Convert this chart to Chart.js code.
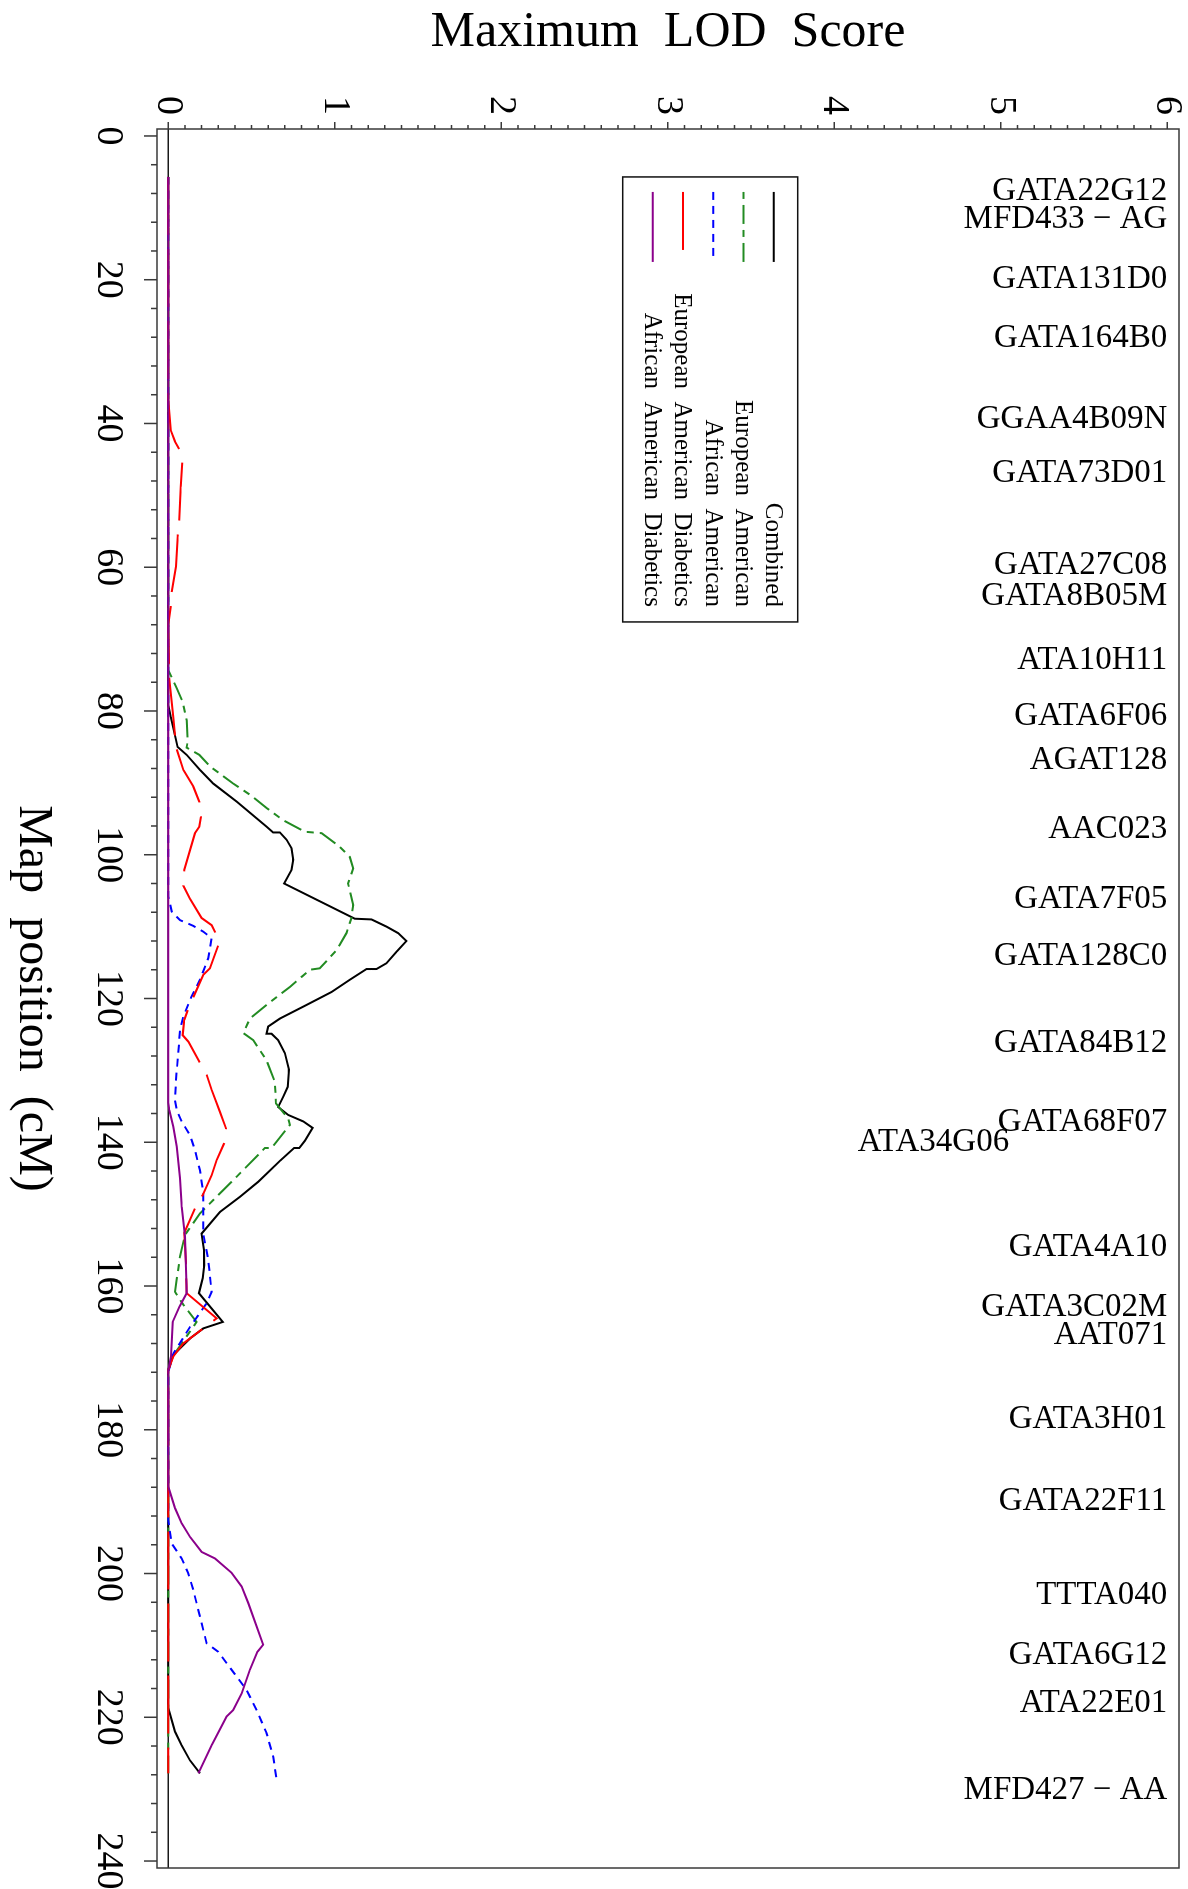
<!DOCTYPE html>
<html>
<head>
<meta charset="utf-8">
<title>Maximum LOD Score</title>
<script src="https://cdn.jsdelivr.net/npm/chart.js@4.4.0/dist/chart.umd.min.js"></script>
<style>
  html, body { margin: 0; padding: 0; background: #fff; }
  #wrap { position: relative; width: 1188px; height: 1889px; overflow: hidden; }
  /* plot is built landscape, then turned a quarter turn clockwise */
  #lodChart { position: absolute; left: 0; top: 0; transform-origin: 0 0; transform: translateX(1188px) rotate(90deg); }
</style>
</head>
<body>
<div id="wrap"><canvas id="lodChart" width="1889" height="1188"></canvas></div>
<script>
// ======================
// Data: [map position (cM), max LOD]
// ======================
const combined = [[5.7,0],[79.2,0],[80.8,0.014],[85.0,0.056],[86.1,0.11],[88.2,0.19],[90.1,0.27],[92.6,0.41],[96.1,0.59],[96.9,0.63],[96.9,0.67],[97.9,0.71],[99.1,0.74],[100.7,0.75],[102.1,0.74],[104.0,0.695],[108.9,1.12],[109.0,1.22],[110.0,1.31],[110.9,1.38],[112.0,1.43],[113.5,1.37],[115.1,1.31],[115.9,1.25],[115.9,1.19],[117.4,1.09],[119.1,0.98],[120.9,0.83],[122.8,0.67],[123.9,0.60],[124.9,0.59],[124.9,0.62],[125.8,0.66],[127.6,0.70],[129.9,0.725],[132.3,0.717],[133.7,0.69],[135.1,0.66],[136.2,0.72],[137.1,0.81],[138.0,0.867],[139.8,0.82],[140.8,0.787],[140.8,0.755],[142.6,0.67],[145.5,0.54],[147.6,0.43],[149.7,0.31],[152.7,0.20],[155.0,0.214],[157.1,0.216],[158.9,0.207],[161.0,0.184],[165.0,0.327],[165.9,0.21],[167.3,0.13],[169.6,0.03],[171.7,0],[218.7,0],[222.0,0.04],[223.9,0.08],[226.0,0.13],[227.8,0.19]];

const europeanAmerican = [[5.7,0],[74.3,0],[76.8,0.05],[78.7,0.086],[81.3,0.11],[84.3,0.116],[85.1,0.11],[86.1,0.186],[87.7,0.25],[90.1,0.39],[91.8,0.50],[93.5,0.59],[95.2,0.69],[96.8,0.82],[97.0,0.92],[98.9,1.03],[100.3,1.09],[101.9,1.11],[104.0,1.08],[107.0,1.11],[108.8,1.10],[110.9,1.07],[113.3,1.01],[115.8,0.91],[116.0,0.85],[118.4,0.73],[120.7,0.60],[122.8,0.49],[124.8,0.45],[125.8,0.51],[128.6,0.59],[131.6,0.64],[134.6,0.647],[136.7,0.72],[137.6,0.73],[140.8,0.62],[140.8,0.58],[144.8,0.41],[149.9,0.19],[152.9,0.10],[155.9,0.07],[160.8,0.04],[162.6,0.09],[165.0,0.17],[170.0,0.02],[171.7,0],[227.8,0]];

const africanAmerican = [[5.7,0],[105.8,0],[107.9,0.02],[109.1,0.07],[109.9,0.15],[110.7,0.21],[111.6,0.26],[114.4,0.24],[117.4,0.19],[119.7,0.14],[122.5,0.09],[124.4,0.07],[127.6,0.06],[131.3,0.046],[134.1,0.04],[135.5,0.05],[137.1,0.08],[139.0,0.13],[141.1,0.16],[143.9,0.19],[147.1,0.21],[152.7,0.21],[156.4,0.24],[160.8,0.26],[162.4,0.23],[165.7,0.13],[169.4,0.03],[172.0,0],[192.6,0],[195.8,0.02],[197.9,0.08],[200.0,0.12],[202.3,0.15],[206.0,0.19],[209.7,0.23],[210.9,0.30],[213.4,0.38],[216.2,0.47],[219.0,0.53],[222.2,0.59],[225.5,0.63],[228.7,0.65]];

const euroAmDiabetics = [[5.7,0],[36.7,0],[40.9,0.014],[42.5,0.04],[43.6,0.066],[45.4,0.084],[48.8,0.074],[53.4,0.066],[55.7,0.056],[59.9,0.046],[63.4,0.02],[65.5,0.014],[68.0,0],[75.5,0.006],[80.8,0.03],[85.0,0.046],[88.2,0.09],[90.5,0.15],[92.6,0.186],[94.7,0.196],[96.1,0.186],[97.0,0.16],[102.1,0.096],[104.3,0.09],[106.1,0.13],[108.8,0.20],[109.8,0.26],[110.7,0.28],[112.3,0.305],[115.8,0.25],[116.7,0.21],[119.3,0.16],[121.4,0.12],[123.0,0.096],[125.1,0.086],[126.0,0.12],[128.8,0.186],[130.6,0.23],[132.7,0.26],[135.8,0.31],[138.1,0.347],[140.1,0.336],[142.5,0.29],[144.6,0.26],[147.3,0.207],[149.2,0.16],[152.6,0.096],[156.8,0.106],[161.0,0.11],[164.5,0.29],[165.9,0.21],[168.0,0.09],[169.8,0.03],[171.7,0],[227.8,0]];

const afrAmDiabetics = [[5.7,0],[134.5,0],[135.5,0.006],[137.8,0.03],[140.6,0.05],[145.0,0.07],[149.0,0.08],[153.1,0.10],[161.0,0.11],[162.9,0.066],[165.0,0.026],[169.8,0.016],[171.7,0],[187.9,0],[190.9,0.04],[193.0,0.08],[194.9,0.13],[197.0,0.20],[197.9,0.28],[199.9,0.38],[201.8,0.44],[204.1,0.48],[209.9,0.57],[210.9,0.535],[213.4,0.49],[216.7,0.44],[219.0,0.39],[219.9,0.35],[223.9,0.26],[227.8,0.18]];

// microsatellite markers along the map
const markerNames = ['GATA22G12','MFD433 \u2212 AG','GATA131D0','GATA164B0','GGAA4B09N','GATA73D01','GATA27C08','GATA8B05M','ATA10H11','GATA6F06','AGAT128','AAC023','GATA7F05','GATA128C0','GATA84B12','GATA68F07','ATA34G06','GATA4A10','GATA3C02M','AAT071','GATA3H01','GATA22F11','TTTA040','GATA6G12','ATA22E01','MFD427 \u2212 AA'];
const markerPos = [7.7,11.6,20.0,28.2,39.4,47.0,59.8,64.0,73.0,80.8,86.8,96.4,106.2,114.2,126.2,137.2,140.0,154.6,162.9,166.8,178.5,190.0,203.1,211.4,218.0,230.1];

const posTicks = [0,20,40,60,80,100,120,140,160,180,200,220,240];
const lodTicks = [0,1,2,3,4,5,6];

const FONT = '"Liberation Serif", "Times New Roman", serif';

function toPoints(pairs) {
  return pairs.map(([pos, lod]) => ({ x: pos, y: lod }));
}

function curve(label, pairs, color, dash, order) {
  return {
    label: label,
    data: toPoints(pairs),
    borderColor: color,
    borderWidth: 2,
    borderDash: dash,
    showLine: true,
    pointRadius: 0,
    fill: false,
    tension: 0,
    order: order
  };
}

// keep the plot frame fixed: no room taken for label overhang
function noOverhang(s) {
  s.paddingTop = 0;
  s.paddingBottom = 0;
  s.paddingLeft = 0;
  s.paddingRight = 0;
}

// ======================
// Extras: frame, ticks, zero line, marker names, legend
// ======================
const lodExtras = {
  id: 'lodExtras',
  beforeDatasetsDraw(chart) {
    const { ctx, chartArea: a, scales: { y } } = chart;
    const y0 = y.getPixelForValue(0);
    ctx.save();
    ctx.strokeStyle = '#1a1a1a';
    ctx.lineWidth = 1.5;
    ctx.beginPath();
    ctx.moveTo(a.left, y0);
    ctx.lineTo(a.right, y0);
    ctx.stroke();
    ctx.restore();
  },
  afterDatasetsDraw(chart) {
    const { ctx, chartArea: a, scales: { x, y } } = chart;
    ctx.save();

    // frame
    ctx.strokeStyle = '#3a3a3a';
    ctx.lineWidth = 1.5;
    ctx.strokeRect(a.left, a.top, a.right - a.left, a.bottom - a.top);

    // LOD ticks every 0.1
    ctx.beginPath();
    for (let i = 0; i <= 60; i++) {
      const py = y.getPixelForValue(i / 10);
      const len = i % 10 === 0 ? 7 : 4;
      ctx.moveTo(a.left, py);
      ctx.lineTo(a.left - len, py);
    }
    // map position ticks every 4 cM
    for (let v = 0; v <= 240; v += 4) {
      const px = x.getPixelForValue(v);
      const len = v % 20 === 0 ? 13 : 6;
      ctx.moveTo(px, a.bottom);
      ctx.lineTo(px, a.bottom + len);
    }
    ctx.stroke();

    // marker names, written upward and ending at LOD 6
    ctx.fillStyle = '#000';
    ctx.font = '33px ' + FONT;
    ctx.textAlign = 'right';
    ctx.textBaseline = 'middle';
    markerNames.forEach((name, i) => {
      const end = name === 'ATA34G06' ? 5.05 : 6;
      ctx.save();
      ctx.translate(x.getPixelForValue(markerPos[i]), y.getPixelForValue(end));
      ctx.rotate(-Math.PI / 2);
      ctx.fillText(name, 0, 0);
      ctx.restore();
    });

    // legend box
    const L = x.getPixelForValue(5.7);
    const T = y.getPixelForValue(3.78);
    const W = 445, H = 175;
    ctx.strokeStyle = '#111';
    ctx.lineWidth = 1.5;
    ctx.strokeRect(L, T, W, H);
    ctx.font = '25px ' + FONT;
    chart.data.datasets.forEach((ds, i) => {
      const ey = T + 24 + i * 30.25;
      ctx.strokeStyle = ds.borderColor;
      ctx.lineWidth = 2;
      ctx.setLineDash(ds.borderDash);
      ctx.beginPath();
      ctx.moveTo(L + 15, ey);
      ctx.lineTo(L + 85, ey);
      ctx.stroke();
      ctx.setLineDash([]);
      ctx.fillText(ds.label, L + W - 15, ey + 1);
    });

    ctx.restore();
  }
};

// ======================
// Chart
// ======================
const lodCtx = document.getElementById('lodChart').getContext('2d');
const lodChart = new Chart(lodCtx, {
  type: 'scatter',
  data: {
    datasets: [
      curve('Combined', combined, '#000000', [], 5),
      curve('European  American', europeanAmerican, '#228B22', [7, 6, 19, 6], 4),
      curve('African  American', africanAmerican, '#0000FF', [8, 6], 3),
      curve('European  American  Diabetics', euroAmDiabetics, '#FF0000', [58, 14], 2),
      curve('African  American  Diabetics', afrAmDiabetics, '#8B008B', [], 1)
    ]
  },
  options: {
    responsive: false,
    animation: false,
    devicePixelRatio: 1,
    events: [],
    layout: { padding: { top: 9, right: 21, bottom: 0, left: 0 }, autoPadding: false },
    plugins: {
      legend: { display: false },
      tooltip: { enabled: false }
    },
    scales: {
      x: {
        type: 'linear',
        position: 'bottom',
        min: -0.97,
        max: 240.97,
        afterBuildTicks: s => { s.ticks = posTicks.map(v => ({ value: v })); },
        afterFit: s => { s.height = 157; noOverhang(s); },
        grid: { display: false, drawTicks: false },
        border: { display: false },
        ticks: { color: '#000', font: { family: FONT, size: 38 }, padding: 26, maxRotation: 0, autoSkip: false },
        title: {
          display: true,
          text: 'Map  position  (cM)',
          color: '#000',
          font: { family: FONT, size: 48, lineHeight: 1.2 },
          padding: { top: 0, bottom: 4 }
        }
      },
      y: {
        type: 'linear',
        position: 'left',
        min: -0.068,
        max: 6.07,
        afterBuildTicks: s => { s.ticks = lodTicks.map(v => ({ value: v })); },
        afterFit: s => { s.width = 129; noOverhang(s); },
        grid: { display: false, drawTicks: false },
        border: { display: false },
        ticks: { color: '#000', font: { family: FONT, size: 38 }, padding: 14, autoSkip: false },
        title: {
          display: true,
          text: 'Maximum  LOD  Score',
          color: '#000',
          font: { family: FONT, size: 50, lineHeight: 1.32 },
          padding: { top: 0, bottom: 0 }
        }
      }
    }
  },
  plugins: [lodExtras]
});
</script>
</body>
</html>
